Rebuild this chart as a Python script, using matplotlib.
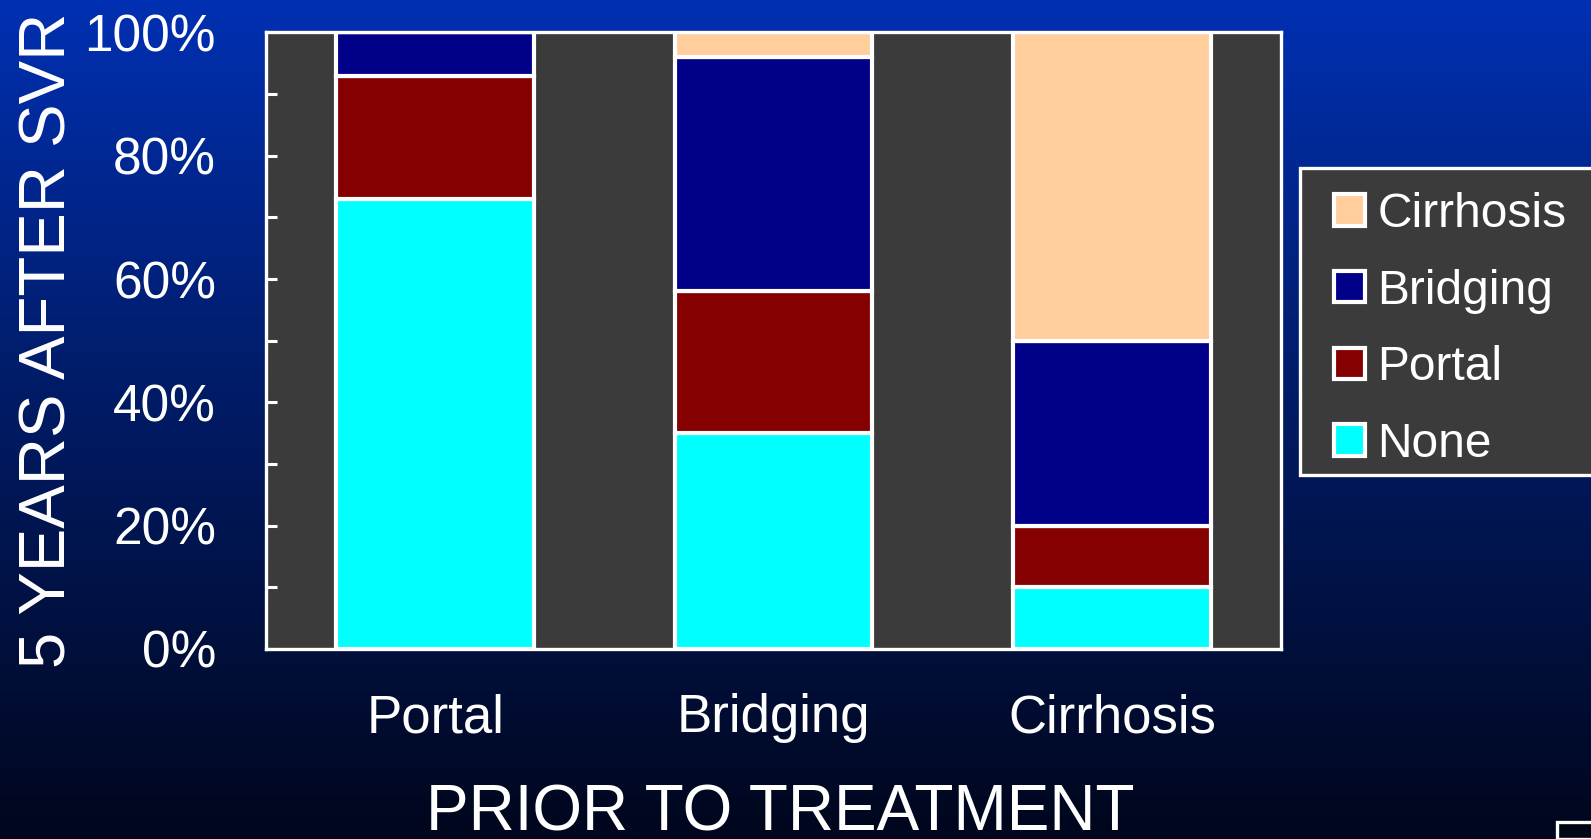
import numpy as np
import matplotlib
matplotlib.use("Agg")
import matplotlib.pyplot as plt
from matplotlib.patches import Rectangle
from matplotlib.ticker import MultipleLocator, FuncFormatter

plt.rcParams['font.family'] = ['Liberation Sans', 'DejaVu Sans']

# ---- data ----
categories = ["Portal", "Bridging", "Cirrhosis"]
series_names = ["None", "Portal", "Bridging", "Cirrhosis"]
none_vals = [73, 35, 10]
portal_vals = [20, 23, 10]
bridging_vals = [7, 38, 30]
cirrhosis_vals = [0, 4, 50]
series_values = [none_vals, portal_vals, bridging_vals, cirrhosis_vals]
series_colors = ["#00FFFF", "#850000", "#000088", "#FFCE9C"]
y_ticks = [0, 20, 40, 60, 80, 100]

W, H, DPI = 1591, 839, 100
fig = plt.figure(figsize=(W / DPI, H / DPI), dpi=DPI)

# background gradient
bg = fig.add_axes([0, 0, 1, 1], zorder=-10)
stops_pos = np.array([0.0, 0.45, 1.0])
stops_col = np.array([[0, 48, 178], [0, 28, 105], [0, 6, 28]]) / 255.0
t = np.linspace(0, 1, 400)
grad = np.stack([np.interp(t, stops_pos, stops_col[:, c]) for c in range(3)], axis=1)
bg.imshow(grad[:, None, :], aspect='auto', extent=[0, 1, 1, 0])
bg.set_xlim(0, 1); bg.set_ylim(1, 0)
bg.axis('off')

ax = fig.add_axes([266 / W, 1 - 649 / H, (1281 - 266) / W, (649 - 32.5) / H])
ax.set_facecolor("#3B3B3B")

x = np.arange(len(categories))
bottom = np.zeros(len(categories))
bars = []
for name, vals, col in zip(series_names, series_values, series_colors):
    vals = np.array(vals, dtype=float)
    b = ax.bar(x, vals, width=0.585, bottom=bottom, color=col, edgecolor='white',
               linewidth=3.0, label=name, zorder=2)
    bars.append(b)
    bottom += vals

ax.set_xlim(-0.5, 2.5)
ax.set_ylim(0, 100)
ax.set_xticks(x)
ax.set_xticklabels(categories)
ax.set_yticks(y_ticks)
ax.yaxis.set_major_formatter(FuncFormatter(lambda v, p: f"{int(v)}%"))
ax.yaxis.set_minor_locator(MultipleLocator(10))

for s in ax.spines.values():
    s.set_color('white')
    s.set_linewidth(2.4)
    s.set_zorder(5)

ax.tick_params(axis='y', which='both', direction='in', length=8, width=2.2,
               color='white', labelcolor='white', labelsize=37, pad=36)
ax.tick_params(axis='x', which='both', length=0, labelcolor='white',
               labelsize=38, pad=32)
ax.tick_params(axis='y', which='both', right=False)

ax.set_xlabel("PRIOR TO TREATMENT", color='white', fontsize=46, va='baseline')
ax.xaxis.set_label_coords(0.507, -0.294)
ax.set_ylabel("5 YEARS AFTER SVR", color='white', fontsize=47, va='center')
ax.yaxis.set_label_coords(-0.2138, 0.5)

# legend box (extends past right edge)
fig.patches.append(Rectangle((1300 / W, 1 - 475 / H), 400 / W, (475 - 168) / H,
                             transform=fig.transFigure, facecolor="#3B3B3B",
                             edgecolor='white', linewidth=2.4, zorder=1))
handles = [b.patches[0] for b in bars]
leg = fig.legend(handles[::-1], series_names[::-1], loc='upper left',
                 bbox_to_anchor=(1334 / W, 1 - 192 / H),
                 frameon=False, fontsize=34.5, labelcolor='white',
                 handlelength=0.65, handleheight=0.63, handletextpad=0.25,
                 labelspacing=0.66, borderpad=0.0, borderaxespad=0.0)
leg.set_zorder(3)

# partial white box in lower right corner
fig.patches.append(Rectangle((1557 / W, 0), 60 / W, 17 / H,
                             transform=fig.transFigure, facecolor="#000818",
                             edgecolor='white', linewidth=2.4, zorder=1))

fig.savefig("out.png", dpi=DPI)
